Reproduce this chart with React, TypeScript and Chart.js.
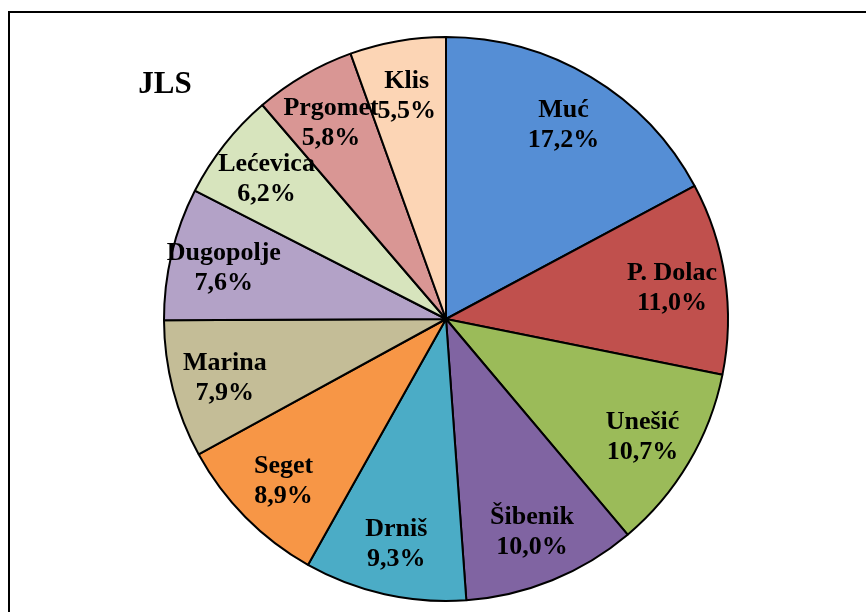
import React, { useEffect, useRef } from "react";
import { Chart, registerables } from "chart.js";

Chart.register(...registerables);

const categories = ["Muć", "P. Dolac", "Unešić", "Šibenik", "Drniš", "Seget", "Marina", "Dugopolje", "Lećevica", "Prgomet", "Klis"];
const shares = [17.2, 11.0, 10.7, 10.0, 9.3, 8.9, 7.9, 7.6, 6.2, 5.8, 5.5];
const shareLabels = ["17,2%", "11,0%", "10,7%", "10,0%", "9,3%", "8,9%", "7,9%", "7,6%", "6,2%", "5,8%", "5,5%"];
const sliceColors = ["#558ed5", "#c0504d", "#9bbb59", "#8064a2", "#4bacc6", "#f79646", "#c4bd97", "#b3a2c7", "#d7e4bd", "#d99694", "#fcd5b5"];
const titleText = "JLS";

const FONT = '"Liberation Serif", "Times New Roman", serif';

const decorPlugin = {
  id: "decor",
  beforeDraw(chart: any) {
    const ctx = chart.ctx;
    ctx.save();
    ctx.strokeStyle = "#000";
    ctx.lineWidth = 2;
    ctx.strokeRect(9, 12, 900, 700);
    ctx.restore();
  },
  afterDraw(chart: any) {
    const ctx = chart.ctx;
    ctx.save();
    ctx.fillStyle = "#000";
    ctx.textAlign = "center";
    ctx.textBaseline = "alphabetic";
    ctx.font = `bold 31px ${FONT}`;
    ctx.fillText(titleText, 165, 93);

    const meta = chart.getDatasetMeta(0);
    ctx.font = `bold 26px ${FONT}`;
    ctx.textBaseline = "middle";
    meta.data.forEach((arc: any, i: number) => {
      const { x, y, startAngle, endAngle, outerRadius } = arc.getProps(["x", "y", "startAngle", "endAngle", "outerRadius"], true);
      const mid = (startAngle + endAngle) / 2;
      const r = outerRadius * 0.81;
      const cx = x + Math.cos(mid) * r;
      const cy = y + Math.sin(mid) * r + 2;
      ctx.fillText(categories[i], cx, cy - 15);
      ctx.fillText(shareLabels[i], cx, cy + 15);
    });
    ctx.restore();
  },
};

export default function App() {
  const ref = useRef<HTMLCanvasElement | null>(null);
  useEffect(() => {
    if (!ref.current) return;
    const chart = new Chart(ref.current, {
      type: "pie",
      data: {
        labels: categories,
        datasets: [
          {
            data: shares,
            backgroundColor: sliceColors,
            borderColor: "#000",
            borderWidth: 2,
          },
        ],
      },
      options: {
        responsive: false,
        animation: false,
        events: [],
        layout: { padding: { left: 163, right: 137, top: 36, bottom: 10 } },
        plugins: {
          legend: { display: false },
          tooltip: { enabled: false },
          title: { display: false },
        },
      },
      plugins: [decorPlugin],
    });
    return () => chart.destroy();
  }, []);
  return (
    <div style={{ position: "fixed", left: 0, top: 0, width: 866, height: 612, background: "#fff" }}>
      <canvas ref={ref} width={866} height={612} style={{ display: "block" }} />
    </div>
  );
}
